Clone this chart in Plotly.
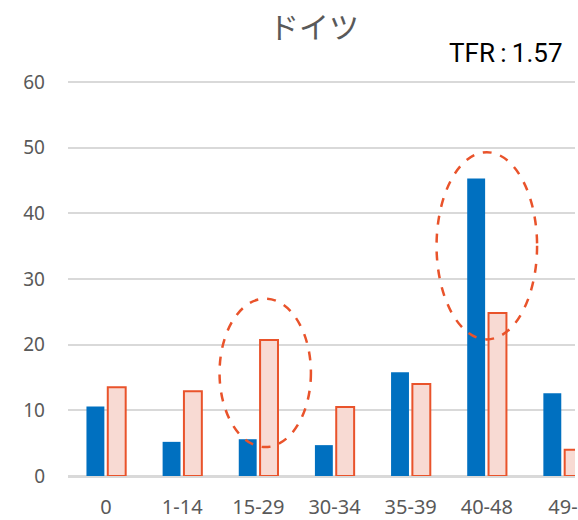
import plotly.graph_objects as go

categories = ["0", "1-14", "15-29", "30-34", "35-39", "40-48", "49-"]
series_blue = [10.6, 5.2, 5.6, 4.7, 15.8, 45.3, 12.6]
series_pink = [13.5, 12.9, 20.7, 10.5, 14.0, 24.8, 4.0]
y_ticks = [0, 10, 20, 30, 40, 50, 60]

# highlight ellipses: (category index, half-width in categories, y bottom, y top)
highlights = [(2.09, 0.60, 4.4, 27.0), (5.0, 0.66, 20.8, 49.3)]

BLUE = "#0070C0"
RED = "#E9532B"
PINK = "#F8DAD3"
GRAY = "#595959"

L, T, B = 68, 78, 43
W, H = 578, 520
PW, PH = W - L, H - T - B

fig = go.Figure()
fig.add_trace(go.Bar(x=list(range(len(categories))), y=series_blue,
                     marker=dict(color=BLUE, line=dict(width=0)), showlegend=False))
fig.add_trace(go.Bar(x=list(range(len(categories))), y=series_pink,
                     marker=dict(color=PINK, line=dict(color=RED, width=2)), showlegend=False))

for cx, hw, y0, y1 in highlights:
    fig.add_shape(type="circle", xref="x", yref="y", x0=cx - hw, x1=cx + hw, y0=y0, y1=y1,
                  line=dict(color=RED, width=2.5, dash="dash"), fillcolor="rgba(0,0,0,0)")

fig.update_layout(
    width=W, height=H,
    margin=dict(l=L, r=0, t=T, b=B),
    paper_bgcolor="white", plot_bgcolor="white",
    barmode="group", bargap=0.44, bargroupgap=0.16,
    annotations=[
        dict(text="ドイツ", xref="paper", yref="paper", x=(315 - L) / PW, y=(H - B - 25) / PH,
             xanchor="center", yanchor="middle", showarrow=False,
             font=dict(family="Noto Sans CJK JP", size=30, color=GRAY)),
        dict(text="TFR\u2009:\u20091.57", xref="paper", yref="paper", x=(509 - L) / PW, y=(H - B - 52.5) / PH,
             xanchor="center", yanchor="middle", showarrow=False,
             font=dict(family="Roboto", size=26, color="black")),
    ],
    xaxis=dict(
        range=[-0.5, -0.5 + PW / 76.6],
        tickmode="array", tickvals=list(range(len(categories))), ticktext=categories,
        showgrid=False, showline=False, zeroline=False,
        ticks="", ticklabelstandoff=17, ticklabeloverflow="allow",
        tickfont=dict(family="Noto Sans", size=20, color=GRAY),
    ),
    yaxis=dict(
        range=[0, 60.6], tickvals=y_ticks,
        showgrid=True, gridcolor="#D9D9D9", gridwidth=1.5,
        zeroline=True, zerolinecolor="#D9D9D9", zerolinewidth=2.5,
        showline=False, ticks="", ticklabelstandoff=22,
        tickfont=dict(family="Noto Sans", size=19, color=GRAY),
    ),
)

fig.write_html("out.html")
